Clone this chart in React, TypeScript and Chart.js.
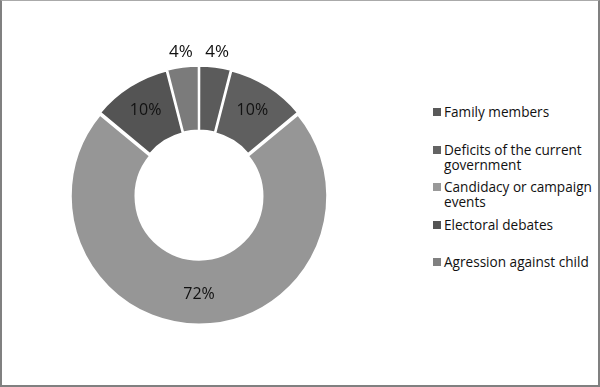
import React, { useEffect, useRef } from "react";
import { Chart, registerables } from "chart.js";

Chart.register(...registerables);

const categories: string[][] = [
  ["Family members"],
  ["Deficits of the current", "government"],
  ["Candidacy or campaign", "events"],
  ["Electoral debates"],
  ["Agression against child"],
];
const shares: number[] = [4, 10, 72, 10, 4];
const sliceColors: string[] = ["#5b5b5b", "#5f5f5f", "#969696", "#545454", "#7b7b7b"];
const legendColors: string[] = ["#595959", "#636363", "#999999", "#555555", "#808080"];

const labelPlugin = {
  id: "sliceLabels",
  afterDatasetsDraw(chart: any) {
    const ctx = chart.ctx;
    const meta = chart.getDatasetMeta(0);
    const total = shares.reduce((a, b) => a + b, 0);
    ctx.save();
    ctx.fillStyle = "#111111";
    ctx.textAlign = "center";
    ctx.textBaseline = "middle";
    meta.data.forEach((arc: any, i: number) => {
      const { x, y, startAngle, endAngle, innerRadius, outerRadius } = arc.getProps(
        ["x", "y", "startAngle", "endAngle", "innerRadius", "outerRadius"],
        true
      );
      const mid = (startAngle + endAngle) / 2;
      const off = arc.options.offset || 0;
      const pct = (shares[i] / total) * 100;
      const outside = pct < 5;
      ctx.font = (outside ? "17px" : "16px") + " 'Open Sans'";
      const r = outside ? outerRadius + off + 12 : (innerRadius + outerRadius) / 2 + off;
      ctx.fillText(Math.round(pct) + "%", x + Math.cos(mid) * r, y + Math.sin(mid) * r);
    });
    ctx.restore();
  },
};

export default function App() {
  const ref = useRef<HTMLCanvasElement>(null);
  useEffect(() => {
    if (!ref.current) return;
    const chart = new Chart(ref.current, {
      type: "doughnut",
      data: {
        labels: categories.map((c) => c.join(" ")),
        datasets: [
          {
            data: shares,
            backgroundColor: sliceColors,
            borderColor: "#ffffff",
            borderWidth: 2,
            offset: 5,
            hoverOffset: 5,
          },
        ],
      },
      options: {
        animation: false,
        responsive: false,
        maintainAspectRatio: false,
        radius: 127,
        cutout: "49%",
        layout: { padding: 0 },
        plugins: {
          legend: { display: false },
          tooltip: { enabled: false },
        },
        events: [],
      },
      plugins: [labelPlugin],
    });
    return () => chart.destroy();
  }, []);

  return (
    <div
      style={{
        position: "absolute",
        left: 0,
        top: 0,
        width: 600,
        height: 387,
        boxSizing: "border-box",
        borderTop: "1px solid #aaaaaa",
        borderLeft: "2px solid #808080",
        borderRight: "2px solid #808080",
        borderBottom: "2px solid #808080",
        background: "#ffffff",
        overflow: "hidden",
      }}
    >
      <canvas
        ref={ref}
        width={300}
        height={300}
        style={{ position: "absolute", left: 47, top: 44, width: 300, height: 300 }}
      />
      <div
        style={{
          position: "absolute",
          left: 431,
          top: 103,
          fontFamily: "'Open Sans', sans-serif",
          fontSize: 13.6,
          lineHeight: "15px",
          color: "#111111",
        }}
      >
        {categories.map((lines, i) => (
          <div key={i} style={{ position: "relative", height: 37.5, paddingLeft: 11 }}>
            <span
              style={{
                position: "absolute",
                left: 0,
                top: 4,
                width: 8,
                height: 8,
                background: legendColors[i],
              }}
            />
            {lines.map((t, j) => (
              <div key={j} style={{ whiteSpace: "nowrap" }}>
                {t}
              </div>
            ))}
          </div>
        ))}
      </div>
    </div>
  );
}
